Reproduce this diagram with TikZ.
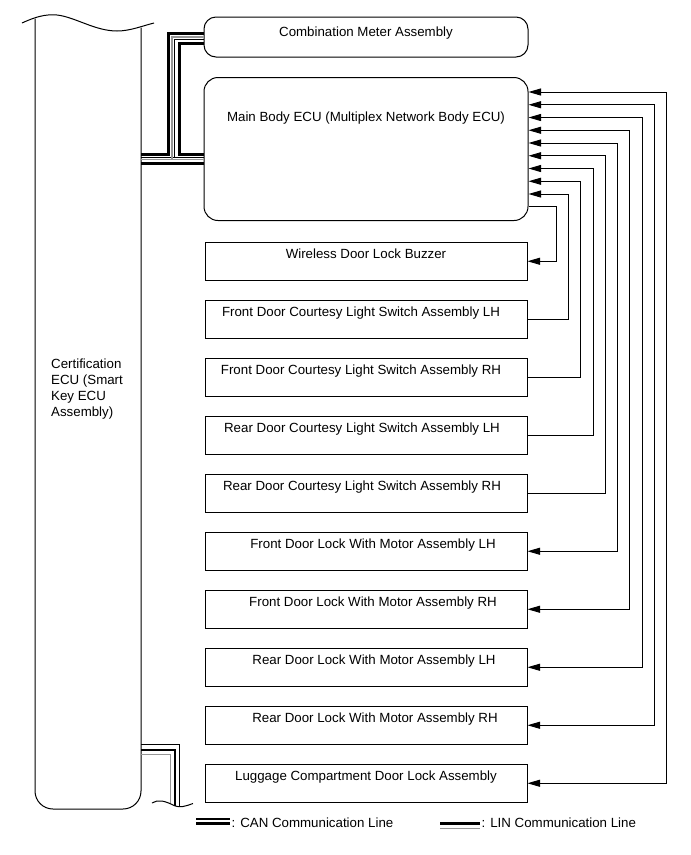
\documentclass[tikz,border=0pt]{standalone}
\usepackage{fontspec}
\setmainfont{Liberation Sans}
\usetikzlibrary{arrows.meta}
\definecolor{lingray}{RGB}{150,150,150}
\begin{document}
\begin{tikzpicture}[x=1pt,y=-1pt,
  font=\fontsize{13.3}{16}\selectfont,
  box/.style={draw,line width=1pt,minimum width=322pt,minimum height=38.5pt,inner sep=0pt},
  rbox/.style={draw,line width=1pt,minimum width=324pt,inner sep=0pt},
  lbl/.style={inner sep=0pt,anchor=base},
  conn/.style={line width=0.9pt},
  tip/.style={-{Triangle[length=12.5pt,width=7pt]}},
  dtip/.style={{Triangle[length=12.5pt,width=7pt]}-{Triangle[length=12.5pt,width=7pt]}},
  canline/.style={line width=3pt},
  linblack/.style={line width=1pt},
  lingrayline/.style={line width=1.2pt,lingray},
  cert/.style={line width=1pt}]
\useasboundingbox (0,0) rectangle (691,855);

% Certification ECU
\draw[cert] (22,23) .. controls (35,17) and (45,14) .. (57,15) .. controls (75,17) and (95,31) .. (117,31) .. controls (130,31) and (142,26) .. (154,23);
\draw[cert,rounded corners=18pt] (35,18.5) -- (35,809) -- (141,809) -- (141,27.5);
\node[inner sep=0pt,align=left,anchor=north west] (certtext) at (51,358.5)
  {Certification\\ECU (Smart\\Key ECU\\Assembly)};

% Top boxes
\node[rbox,minimum height=40pt,rounded corners=12pt] (meter) at (366,37) {};
\node[lbl] (metert) at (366,36) {Combination Meter Assembly};
\node[rbox,minimum height=143pt,rounded corners=14pt] (ecu) at (366,149) {};
\node[lbl] (ecut) at (366,121) {Main Body ECU (Multiplex Network Body ECU)};

% Lower boxes
\node[box] (buzz) at (366,261.25) {};
\node[lbl] (buzzt) at (366,258.5) {Wireless Door Lock Buzzer};
\node[box] (fcl) at (366,319.25) {};
\node[lbl] (fclt) at (361,316.5) {Front Door Courtesy Light Switch Assembly LH};
\node[box] (fcr) at (366,377.25) {};
\node[lbl] (fcrt) at (361,374.5) {Front Door Courtesy Light Switch Assembly RH};
\node[box] (rcl) at (366,435.25) {};
\node[lbl] (rclt) at (362,432.5) {Rear Door Courtesy Light Switch Assembly LH};
\node[box] (rcr) at (366,493.25) {};
\node[lbl] (rcrt) at (362,490.5) {Rear Door Courtesy Light Switch Assembly RH};
\node[box] (fll) at (366,551.25) {};
\node[lbl] (fllt) at (373,548.5) {Front Door Lock With Motor Assembly LH};
\node[box] (flr) at (366,609.25) {};
\node[lbl] (flrt) at (373,606.5) {Front Door Lock With Motor Assembly RH};
\node[box] (rll) at (366,667.25) {};
\node[lbl] (rllt) at (374,664.5) {Rear Door Lock With Motor Assembly LH};
\node[box] (rlr) at (366,725.25) {};
\node[lbl] (rlrt) at (375,722.5) {Rear Door Lock With Motor Assembly RH};
\node[box] (lug) at (366,783.25) {};
\node[lbl] (lugt) at (366,780.5) {Luggage Compartment Door Lock Assembly};

% Right-hand connectors
\coordinate (vb) at (556,206.5);
\coordinate (v1) at (568,194);
\coordinate (v2) at (580,181.25);
\coordinate (v3) at (593,168.5);
\coordinate (v4) at (605,155.75);
\coordinate (v5) at (617,143);
\coordinate (v6) at (629,130.25);
\coordinate (v7) at (642,117.5);
\coordinate (v8) at (654,104.75);
\coordinate (v9) at (666,92);
\draw[conn,tip] (ecu.east |- vb) -- (vb) |- (buzz.east);
\draw[conn,tip] (fcl.east) -| (v1) -- (ecu.east |- v1);
\draw[conn,tip] (fcr.east) -| (v2) -- (ecu.east |- v2);
\draw[conn,tip] (rcl.east) -| (v3) -- (ecu.east |- v3);
\draw[conn,tip] (rcr.east) -| (v4) -- (ecu.east |- v4);
\draw[conn,dtip] (fll.east) -| (v5) -- (ecu.east |- v5);
\draw[conn,dtip] (flr.east) -| (v6) -- (ecu.east |- v6);
\draw[conn,dtip] (rll.east) -| (v7) -- (ecu.east |- v7);
\draw[conn,dtip] (rlr.east) -| (v8) -- (ecu.east |- v8);
\draw[conn,dtip] (lug.east) -| (v9) -- (ecu.east |- v9);

% CAN / LIN between Certification ECU, meter and main body ECU
\draw[lingrayline] (141,159.5) -- (ecu.west |- 0,159.5);
\draw[linblack] (141,157) -- (ecu.west |- 0,157);
\draw[lingrayline] (172,159.5) -- (172,37) -- (meter.west |- 0,37);
\draw[linblack] (174.5,157) -- (174.5,39.5) -- (meter.west |- 0,39.5);
\draw[canline] (141,154.5) -- (168.5,154.5) -- (168.5,33.5) -- (meter.west |- 0,33.5);
\draw[canline] (ecu.west |- 0,154.5) -- (179,154.5) -- (179,43.5) -- (meter.west |- 0,43.5);
\draw[canline] (141,163.5) -- (ecu.west |- 0,163.5);

% Lines leaving the Certification ECU at the bottom
\draw[linblack] (141,744) -- (179.5,744) -- (179.5,806.5);
\draw[line width=2.5pt] (141,750) -- (175,750) -- (175,805.5);
\draw[lingrayline] (141,754.5) -- (170.5,754.5) -- (170.5,804);
\draw[cert] (152,803) .. controls (158,799) and (165,801) .. (173,805) .. controls (180,808.5) and (186,806) .. (193,803.5);

% Legend
\draw[line width=2pt] (196,818.7) -- (230,818.7);
\draw[line width=3pt] (196,823.8) -- (230,823.8);
\node[lbl,anchor=base west] (canleg) at (231.5,827.5) {: CAN Communication Line};
\draw[line width=2.3pt] (440,823.5) -- (480,823.5);
\draw[lingrayline] (440,828.3) -- (480,828.3);
\node[lbl,anchor=base west] (linleg) at (481.5,827.5) {: LIN Communication Line};
\end{tikzpicture}
\end{document}
